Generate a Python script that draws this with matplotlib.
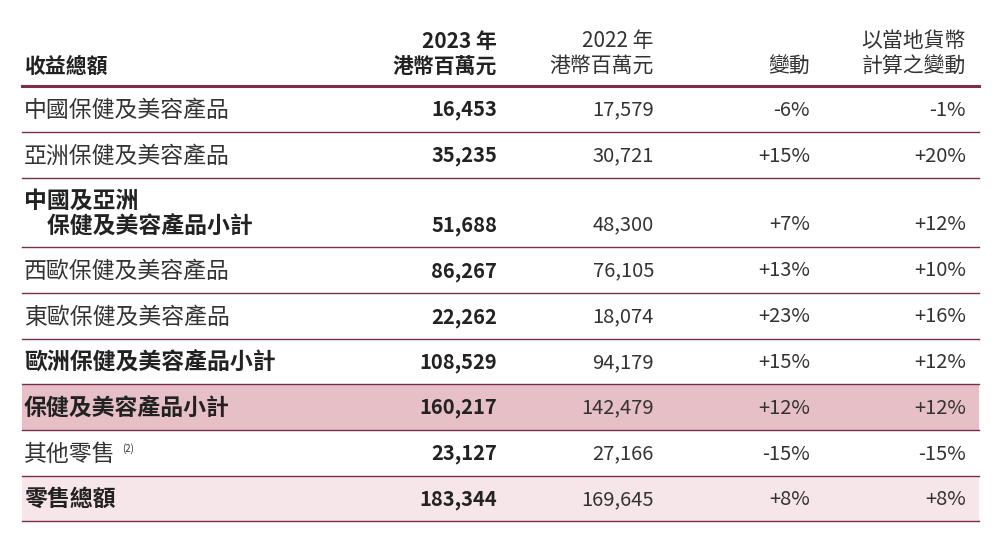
import matplotlib.pyplot as plt
from matplotlib.patches import Rectangle

plt.rcParams['font.family'] = ['Noto Sans CJK TC', 'DejaVu Sans']

header_label = "收益總額"
header_2023 = ["2023 年", "港幣百萬元"]
header_2022 = ["2022 年", "港幣百萬元"]
header_chg = ["變動"]
header_local = ["以當地貨幣", "計算之變動"]

labels = ["中國保健及美容產品", "亞洲保健及美容產品", "中國及亞洲\n　保健及美容產品小計",
          "西歐保健及美容產品", "東歐保健及美容產品", "歐洲保健及美容產品小計",
          "保健及美容產品小計", "其他零售", "零售總額"]
v2023 = ["16,453", "35,235", "51,688", "86,267", "22,262", "108,529", "160,217", "23,127", "183,344"]
v2022 = ["17,579", "30,721", "48,300", "76,105", "18,074", "94,179", "142,479", "27,166", "169,645"]
change = ["-6%", "+15%", "+7%", "+13%", "+23%", "+15%", "+12%", "-15%", "+8%"]
local_change = ["-1%", "+20%", "+12%", "+10%", "+16%", "+12%", "+12%", "-15%", "+8%"]
bold_rows = [2, 5, 6, 8]
shade = {6: "#e6bfc7", 8: "#f6e5e9"}

W, H = 1008, 546
fig = plt.figure(figsize=(W / 100, H / 100), dpi=100)
ax = fig.add_axes([0, 0, 1, 1])
ax.set_xlim(0, W)
ax.set_ylim(H, 0)
ax.axis("off")

line_c = "#7b2d4d"
txt = "#333333"
fs = 14.5
fs_lab = 16.5
x0, x1 = 22, 979
cols = [497, 654, 810, 966]

# header
ax.text(24, 66, header_label, fontsize=15, fontweight="bold", color="#222222", va="center")
for col, lines, bold in [(cols[0], header_2023, True), (cols[1], header_2022, False),
                         (cols[2], header_chg, False), (cols[3], header_local, False)]:
    ys = [66] if len(lines) == 1 else [41, 66]
    for y, s in zip(ys, lines):
        ax.text(col, y, s, fontsize=15, ha="right", va="center",
                fontweight="bold" if bold else "normal", color="#222222" if bold else txt)
ax.plot([x0, x1], [86, 86], color=line_c, lw=2.2)

bounds = [86, 132, 178, 247, 293, 339, 384, 430, 476, 521]
for i, lab in enumerate(labels):
    top, bot = bounds[i], bounds[i + 1]
    if i in shade:
        ax.add_patch(Rectangle((x0, top), x1 - x0, bot - top, color=shade[i], lw=0))
    b = i in bold_rows
    yc = (top + bot) / 2 + 1
    ynum = bot - 22 if i == 2 else yc
    ax.text(24, yc, lab, fontsize=fs_lab, fontweight="bold" if b else "normal",
            color="#222222" if b else txt, va="center", linespacing=1.15)
    if lab == "其他零售":
        ax.text(122, yc - 5, "(2)", fontsize=7, color=txt, va="center")
    ax.text(cols[0], ynum, v2023[i], fontsize=fs, fontweight="bold", ha="right", va="center", color="#222222")
    for col, vals in zip(cols[1:], [v2022, change, local_change]):
        ax.text(col, ynum, vals[i], fontsize=fs, ha="right", va="center", color=txt)
    ax.plot([x0, x1], [bot, bot], color=line_c, lw=1.0)

fig.savefig("out.png", dpi=100)
